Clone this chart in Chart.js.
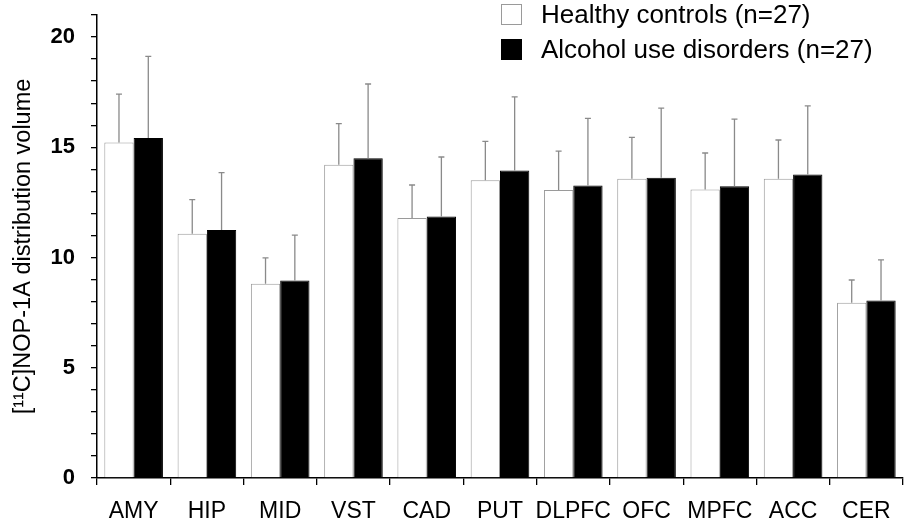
<!DOCTYPE html>
<html lang="en">
<head>
  <meta charset="UTF-8">
  <title>NOP-1A distribution volume</title>
  <script src="https://cdn.jsdelivr.net/npm/chart.js"></script>
  <style>
    body {
      margin: 0;
      background: #fff;
      font-family: "Liberation Sans", Arial, sans-serif;
    }
    .wrap {
      position: relative;
      width: 909px;
      height: 521px;
    }
    .legend {
      position: absolute;
      left: 501px;
      top: -3px;
      font-size: 26px;
      color: #000;
    }
    .legend div {
      height: 35px;
      display: flex;
      align-items: center;
    }
    .legend span.box {
      display: inline-block;
      width: 21px;
      height: 21px;
      margin-right: 19px;
      box-sizing: border-box;
    }
  </style>
</head>
<body>

<div class="wrap">
  <canvas id="myChart" width="909" height="521"></canvas>
  <div class="legend" id="legend"></div>
</div>

<script>
  const regions = ['AMY', 'HIP', 'MID', 'VST', 'CAD', 'PUT', 'DLPFC', 'OFC', 'MPFC', 'ACC', 'CER'];
  const healthy = [15.22, 11.08, 8.81, 14.21, 11.79, 13.51, 13.06, 13.57, 13.09, 13.57, 7.95];
  const healthySD = [2.19, 1.55, 1.17, 1.86, 1.50, 1.76, 1.77, 1.88, 1.65, 1.76, 1.03];
  const aud = [15.42, 11.25, 8.96, 14.50, 11.86, 13.95, 13.27, 13.62, 13.23, 13.77, 8.05];
  const audSD = [3.70, 2.60, 2.06, 3.37, 2.70, 3.34, 3.04, 3.16, 3.05, 3.11, 1.84];
  const yTicks = [0, 5, 10, 15, 20];

  Chart.defaults.font.family = '"Liberation Sans", Arial, sans-serif';
  Chart.defaults.color = '#000';

  // upward error bars (mean + SD) with a small cap
  const errorBars = {
    id: 'errorBars',
    afterDatasetsDraw(chart) {
      const c = chart.ctx;
      const y = chart.scales.y;
      c.save();
      c.strokeStyle = '#8a8a8a';
      c.lineWidth = 1.3;
      chart.data.datasets.forEach((ds, i) => {
        chart.getDatasetMeta(i).data.forEach((bar, j) => {
          const top = y.getPixelForValue(ds.data[j] + ds.sd[j]);
          c.beginPath();
          c.moveTo(bar.x, bar.y);
          c.lineTo(bar.x, top);
          c.moveTo(bar.x - 3, top);
          c.lineTo(bar.x + 3, top);
          c.stroke();
        });
      });
      c.restore();
    }
  };

  const ctx = document.getElementById('myChart').getContext('2d');
  const myChart = new Chart(ctx, {
    type: 'bar',
    data: {
      labels: regions,
      datasets: [{
        label: 'Healthy controls (n=27)',
        data: healthy,
        sd: healthySD,
        backgroundColor: '#ffffff',
        borderColor: '#9a9a9a',
        borderWidth: 1
      }, {
        label: 'Alcohol use disorders (n=27)',
        data: aud,
        sd: audSD,
        backgroundColor: '#000000',
        borderColor: '#000000',
        borderWidth: 1
      }]
    },
    options: {
      responsive: false,
      animation: false,
      layout: {
        padding: { top: 15, right: 6, left: 0, bottom: 0 }
      },
      plugins: {
        legend: { display: false },
        tooltip: { enabled: false }
      },
      datasets: {
        bar: { categoryPercentage: 0.8, barPercentage: 1.0 }
      },
      scales: {
        x: {
          grid: {
            display: true,
            drawOnChartArea: false,
            offset: true,
            tickLength: 7,
            color: '#000',
            lineWidth: 1.3
          },
          border: { display: true, color: '#000', width: 1.5 },
          ticks: {
            font: { size: 23 },
            padding: 13,
            maxRotation: 0,
            autoSkip: false
          },
          afterFit(scale) {
            scale.height = 43;
            scale.paddingLeft = 0;
            scale.paddingRight = 0;
          }
        },
        y: {
          min: 0,
          max: 21,
          grid: {
            display: true,
            drawOnChartArea: false,
            tickLength: 6,
            color: '#000',
            lineWidth: 1.3
          },
          border: { display: true, color: '#000', width: 1.5 },
          ticks: {
            stepSize: 1,
            autoSkip: false,
            padding: 16,
            font: { size: 22, weight: 'bold' },
            callback: v => yTicks.includes(v) ? v : ''
          },
          title: {
            display: true,
            text: '[¹¹C]NOP-1A distribution volume',
            font: { size: 23.5 },
            padding: { top: 9, bottom: 0 }
          },
          afterFit(scale) {
            scale.width = 97;
            scale.paddingTop = 0;
            scale.paddingBottom = 0;
          }
        }
      }
    },
    plugins: [errorBars]
  });

  // legend built from the datasets
  const legend = document.getElementById('legend');
  myChart.data.datasets.forEach(ds => {
    const row = document.createElement('div');
    const box = document.createElement('span');
    box.className = 'box';
    box.style.background = ds.backgroundColor;
    box.style.border = '1px solid ' + ds.borderColor;
    row.appendChild(box);
    row.appendChild(document.createTextNode(ds.label));
    legend.appendChild(row);
  });
</script>

</body>
</html>
